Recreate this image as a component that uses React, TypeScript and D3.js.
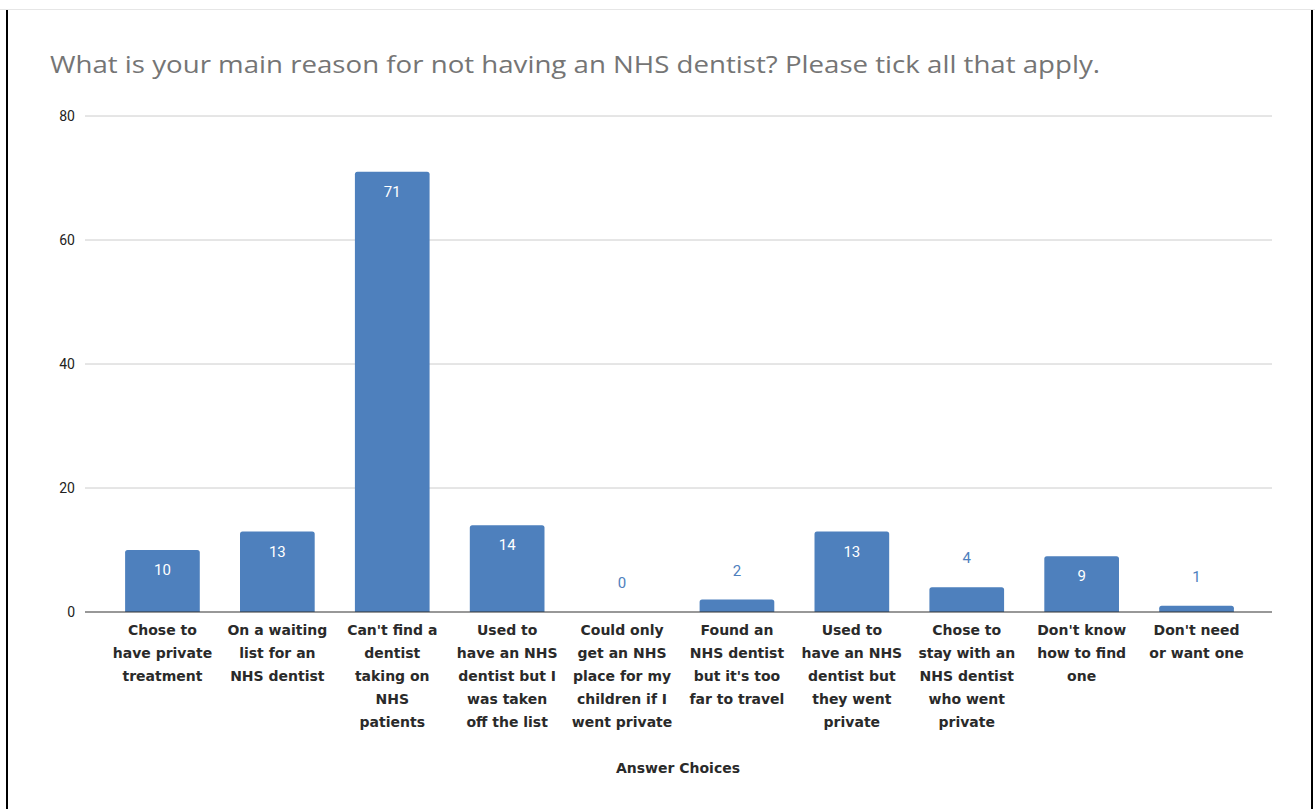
import React from "react";
import * as d3 from "d3";

const categories: string[][] = [
  ["Chose to", "have private", "treatment"],
  ["On a waiting", "list for an", "NHS dentist"],
  ["Can't find a", "dentist", "taking on", "NHS", "patients"],
  ["Used to", "have an NHS", "dentist but I", "was taken", "off the list"],
  ["Could only", "get an NHS", "place for my", "children if I", "went private"],
  ["Found an", "NHS dentist", "but it's too", "far to travel"],
  ["Used to", "have an NHS", "dentist but", "they went", "private"],
  ["Chose to", "stay with an", "NHS dentist", "who went", "private"],
  ["Don't know", "how to find", "one"],
  ["Don't need", "or want one"],
];
const values: number[] = [10, 13, 71, 14, 0, 2, 13, 4, 9, 1];
const yTicks: number[] = [0, 20, 40, 60, 80];
const title = "What is your main reason for not having an NHS dentist? Please tick all that apply.";
const xTitle = "Answer Choices";

const W = 1315;
const H = 809;
const plotLeft = 85;
const plotRight = 1272;
const y0 = 612;
const yTop = 116;
const barColor = "#4e80bd";

export default function App() {
  const idx = values.map((_, i) => String(i));
  const x = d3.scaleBand<string>().domain(idx).range([105, 1254]).paddingInner(0.35).paddingOuter(0.175);
  const y = d3.scaleLinear().domain([0, 80]).range([y0, yTop]);
  const bw = x.bandwidth();
  const r = 2.5;
  const labelFont = "'DejaVu Sans', sans-serif";

  return (
    <svg width={W} height={H} style={{ position: "absolute", left: 0, top: 0, background: "#fff" }}>
      <rect x={0} y={0} width={W} height={H} fill="#fff" />
      <line x1={0} x2={W} y1={9.5} y2={9.5} stroke="#e6e6e6" strokeWidth={1} />
      <line x1={7} x2={7} y1={10} y2={H} stroke="#000" strokeWidth={2} />
      <line x1={1312} x2={1312} y1={10} y2={H} stroke="#000" strokeWidth={2} />
      <text x={50} y={73} fontFamily="'Open Sans', sans-serif" fontSize={24} fill="#757575" textLength={1050} lengthAdjust="spacingAndGlyphs">
        {title}
      </text>
      {yTicks.map((t) => (
        <g key={t}>
          {t !== 0 && (
            <line x1={plotLeft} x2={plotRight} y1={y(t)} y2={y(t)} stroke="#cccccc" strokeWidth={1} />
          )}
          <text x={75} y={y(t)} dy="0.35em" textAnchor="end" fontFamily="'Roboto', sans-serif" fontSize={14} fill="#222">
            {t}
          </text>
        </g>
      ))}
      {values.map((v, i) => {
        const bx = x(String(i))!;
        const by = y(v);
        const h = y0 - by;
        const rr = Math.min(r, h / 2);
        const path = h > 0
          ? `M${bx},${y0} L${bx},${by + rr} Q${bx},${by} ${bx + rr},${by} L${bx + bw - rr},${by} Q${bx + bw},${by} ${bx + bw},${by + rr} L${bx + bw},${y0} Z`
          : "";
        const inside = v >= 9;
        return (
          <g key={i}>
            {h > 0 && <path d={path} fill={barColor} />}
            <text
              x={bx + bw / 2}
              y={inside ? by + 20 : by - 29}
              dy="0.35em"
              textAnchor="middle"
              fontFamily="'Roboto', sans-serif"
              fontSize={15}
              fill={inside ? "#ffffff" : "#4e80bd"}
            >
              {v}
            </text>
          </g>
        );
      })}
      <line x1={plotLeft} x2={plotRight} y1={y0} y2={y0} stroke="#333" strokeWidth={1.2} />
      {categories.map((lines, i) => {
        const cx = x(String(i))! + bw / 2;
        return (
          <text key={i} textAnchor="middle" fontFamily={labelFont} fontSize={14} fontWeight={600} fill="#2a2a2a">
            {lines.map((l, j) => (
              <tspan key={j} x={cx} y={635 + j * 23}>
                {l}
              </tspan>
            ))}
          </text>
        );
      })}
      <text x={678} y={773} textAnchor="middle" fontFamily={labelFont} fontSize={14} fontWeight={600} fill="#2a2a2a">
        {xTitle}
      </text>
    </svg>
  );
}
